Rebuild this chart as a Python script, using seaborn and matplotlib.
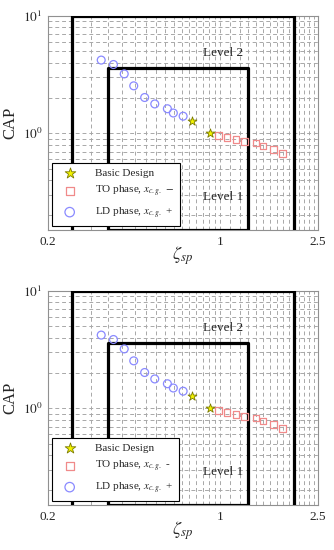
import numpy as np
import pandas as pd
import matplotlib
matplotlib.use("Agg")
import matplotlib.pyplot as plt
import seaborn as sns

# ---- data ----
ld_x = [0.329, 0.369, 0.408, 0.446, 0.494, 0.543, 0.611, 0.646, 0.708]
ld_y = [4.21, 3.86, 3.21, 2.54, 2.02, 1.78, 1.62, 1.49, 1.40]
basic_x = [0.768, 0.907]
basic_y = [1.27, 1.00]
to_x = [0.987, 1.068, 1.159, 1.258, 1.40, 1.495, 1.648, 1.795]
to_y = [0.961, 0.924, 0.889, 0.854, 0.827, 0.779, 0.730, 0.670]

level2_x = [0.25, 2.0]
level2_ytop = 10.0
level1_x = [0.35, 1.30]
level1_ytop = 3.6

x_ticks = [0.2, 1, 2.5]
x_ticklabels = ["0.2", "1", "2.5"]
y_ticks = [1, 10]
y_ticklabels = [r"$10^{0}$", r"$10^{1}$"]

legend_labels_top = ["Basic Design", r"TO phase, $x_{c.g.}$ $-$", r"LD phase, $x_{c.g.}$ +"]
legend_labels_bot = ["Basic Design", r"TO phase, $x_{c.g.}$ -", r"LD phase, $x_{c.g.}$ +"]

sns.set_style("white")
plt.rcParams["font.family"] = ["Liberation Serif", "DejaVu Serif"]
plt.rcParams["mathtext.fontset"] = "stix"

fig = plt.figure(figsize=(3.34, 5.5), dpi=100)
ax_top = fig.add_axes([48/334, 1-230/550, 270/334, 214/550])
ax_bot = fig.add_axes([48/334, 1-505/550, 270/334, 214/550])

YMIN = 0.15


def draw(ax, labels):
    ax.set_xscale("log")
    ax.set_yscale("log")
    ax.set_xlim(0.2, 2.5)
    ax.set_ylim(YMIN, 10)

    minor_x = list(np.round(np.arange(0.25, 0.99, 0.05), 2)) + list(np.round(np.arange(1.1, 2.45, 0.1), 2))
    ax.set_xticks(x_ticks)
    ax.set_xticklabels(x_ticklabels)
    ax.set_xticks(minor_x, minor=True)
    ax.set_xticklabels([], minor=True)
    minor_y = [m * d for d in (0.1, 1) for m in range(2, 10) if m * d >= YMIN]
    ax.set_yticks(y_ticks)
    ax.set_yticklabels(y_ticklabels)
    ax.set_yticks(minor_y, minor=True)
    ax.set_yticklabels([], minor=True)
    ax.tick_params(which="both", length=0, labelsize=9.5, pad=4)

    ax.grid(True, which="both", color="#a8a8a8", linestyle=(0, (4, 3)), linewidth=0.7)
    ax.set_axisbelow(True)
    for s in ax.spines.values():
        s.set_color("#909090")
        s.set_linewidth(0.8)

    # level boundaries
    ax.plot([level2_x[0], level2_x[0], level2_x[1], level2_x[1]],
            [YMIN, level2_ytop, level2_ytop, YMIN], color="black", lw=2.3, zorder=3)
    ax.plot([level1_x[0], level1_x[0], level1_x[1], level1_x[1], level1_x[0]],
            [YMIN, level1_ytop, level1_ytop, YMIN, YMIN], color="black", lw=2.3, zorder=3)

    sns.scatterplot(x=basic_x, y=basic_y, ax=ax, marker="*", s=45, color="#f2f200",
                    edgecolor="#7a7a00", linewidth=0.6, zorder=5, label=labels[0])
    sns.scatterplot(x=to_x, y=to_y, ax=ax, marker="s", s=22, facecolor="none",
                    edgecolor="#f08a8a", linewidth=0.9, zorder=4, label=labels[1])
    sns.scatterplot(x=ld_x, y=ld_y, ax=ax, marker="o", s=32, facecolor="none",
                    edgecolor="#8a8aff", linewidth=0.9, zorder=4, label=labels[2])

    ax.text(1.03, 4.86, "Level 2", ha="center", va="center", fontsize=9.5, zorder=6)
    ax.text(1.03, 0.286, "Level 1", ha="center", va="center", fontsize=9.5, zorder=6)

    leg = ax.legend(loc="lower left", fontsize=8, frameon=True, fancybox=False,
                    borderaxespad=0.35, handletextpad=1.2, labelspacing=0.55,
                    borderpad=0.5, handlelength=2.2, markerscale=1.2)
    leg.get_frame().set_edgecolor("black")
    leg.get_frame().set_linewidth(0.8)
    leg.get_frame().set_alpha(1.0)
    leg.set_zorder(10)

    ax.set_xlabel(r"$\zeta_{sp}$", fontsize=13, labelpad=-2)
    ax.set_ylabel("CAP", fontsize=12, labelpad=3)


draw(ax_top, legend_labels_top)
draw(ax_bot, legend_labels_bot)

fig.savefig("out.png", dpi=100)
